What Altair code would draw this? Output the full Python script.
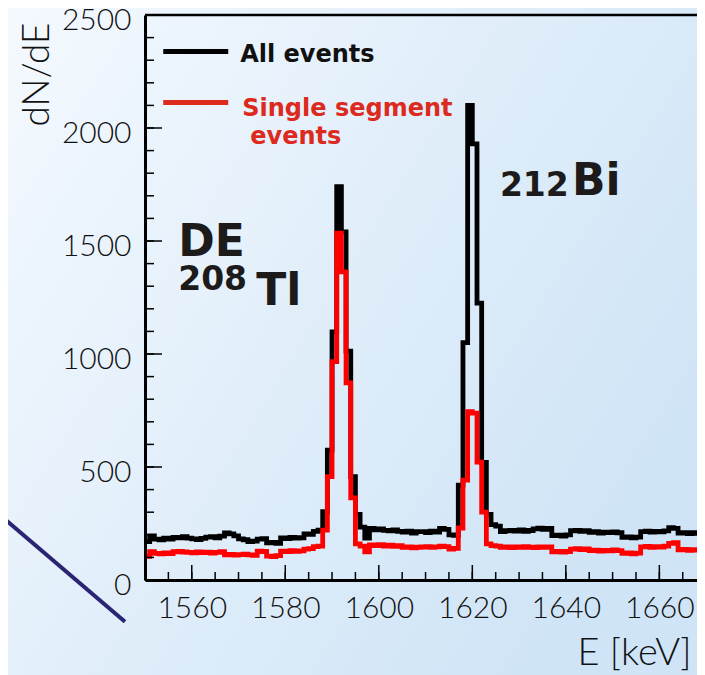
import altair as alt
import pandas as pd

E_MIN, E_MAX = 1550, 1670
E_VIEW_MAX = 1668.05  # right edge of the visible plot area (picture is cut there)

# counts per 1 keV bin, first bin starts at 1550 keV
all_events = [
    170, 195, 181, 178, 185, 181, 188, 186, 192, 185,
    182, 179, 184, 190, 192, 186, 194, 208, 204, 195,
    182, 178, 170, 172, 181, 183, 164, 166, 162, 186,
    183, 188, 185, 187, 204, 202, 215, 221, 302, 575,
    1098, 1740, 1540, 1013, 457, 290, 234, 185, 228, 222,
    226, 220, 218, 222, 215, 212, 216, 208, 214, 214,
    210, 216, 212, 228, 224, 200, 198, 420, 1050, 2100,
    1930, 1225, 520, 290, 245, 238, 214, 218, 220, 216,
    222, 215, 219, 226, 229, 224, 228, 196, 198, 194,
    200, 218, 220, 215, 218, 211, 214, 208, 212, 210,
    213, 209, 189, 191, 187, 190, 214, 216, 212, 215,
    213, 217, 232, 228, 207, 210, 205, 209, 206, 208,
]
single_segment = [
    105, 125, 118, 116, 120, 117, 125, 127, 124, 122,
    120, 124, 121, 123, 119, 122, 125, 111, 113, 110,
    112, 114, 111, 109, 128, 126, 106, 104, 108, 128,
    126, 130, 127, 129, 137, 139, 148, 150, 221, 457,
    966, 1535, 1363, 872, 363, 160, 150, 125, 155, 152,
    156, 150, 154, 149, 152, 144, 146, 142, 145, 146,
    148, 144, 147, 150, 148, 137, 140, 230, 442, 745,
    738, 522, 300, 160, 152, 150, 145, 147, 143, 146,
    144, 148, 145, 143, 146, 144, 147, 125, 127, 123,
    126, 137, 139, 135, 138, 130, 132, 128, 131, 129,
    133, 130, 118, 120, 116, 119, 147, 149, 145, 148,
    146, 150, 162, 165, 133, 135, 131, 134, 132, 134,
]

x_major = [1560, 1580, 1600, 1620, 1640, 1660]
x_minor = list(range(1555, 1668, 5))
y_major = [0, 500, 1000, 1500, 2000, 2500]
y_minor = list(range(0, 2501, 100))

legend_text = ["All events", "Single segment", "events"]
legend_text_E = [1570.35, 1570.8, 1572.5]
legend_text_N = [2292, 2053, 1929]
legend_text_color = ["#111111", "#dc2a1e", "#dc2a1e"]
legend_line_E = [1553.9, 1553.9]
legend_line_E2 = [1567.8, 1567.8]
legend_line_N = [2338, 2113]
legend_line_color = ["#000000", "#dc2a1e"]

big_labels = ["DE", "Tl", "Bi"]
big_E = [1557.1, 1573.8, 1641.3]
big_N = [1434, 1217, 1704]
small_labels = ["208", "212"]
small_E = [1557.1, 1625.9]
small_N = [1283, 1699]

# ---------------------------------------------------------------
energy = [E_MIN + i for i in range(len(all_events))]
def step_frame(vals):
    es = [e for e in energy if e <= E_VIEW_MAX] + [E_VIEW_MAX]
    vs = vals[:len(es) - 1] + [vals[len(es) - 2]]
    return pd.DataFrame({"E": es, "N": vs})

black_df = step_frame(all_events)
red_df = step_frame(single_segment)

PW, PH = 552, 565

xs = alt.Scale(domain=[E_MIN, E_VIEW_MAX], nice=False, zero=False)
ys = alt.Scale(domain=[0, 2500], nice=False, zero=False)

x_axis = alt.Axis(
    values=x_major, format="d", ticks=False, grid=False, zindex=2,
    domainColor="black", domainWidth=3,
    labelFont="Lato", labelFontSize=30, labelFontWeight=300, labelColor="#111111",
    labelPadding=13, labelOffset=0, labelFlush=False, labelOverlap=False,
    title="E [keV]", titleFont="Lato", titleFontSize=38, titleFontWeight=300,
    titleColor="#111111", titleX=546, titleY=84, titleAlign="right",
    titleBaseline="alphabetic",
)
y_axis = alt.Axis(
    values=y_major, format="d", ticks=False, grid=False, zindex=2,
    domainColor="black", domainWidth=3,
    labelFont="Lato", labelFontSize=30, labelFontWeight=300, labelColor="#111111",
    labelPadding=14, labelOffset=5, labelFlush=False, labelOverlap=False,
    title="dN/dE", titleFont="Lato", titleFontSize=37, titleFontWeight=300,
    titleColor="#111111", titleAngle=270, titleX=-108, titleY=59,
    titleAlign="center", titleBaseline="middle",
)

X = alt.X("E:Q", scale=xs, axis=x_axis)
Y = alt.Y("N:Q", scale=ys, axis=y_axis)

bg = alt.Chart(alt.Data(values=[{}])).mark_rect(
    color=alt.LinearGradient(
        gradient="linear",
        stops=[alt.GradientStop(color="#f4f9fe", offset=0),
               alt.GradientStop(color="#cfe4f6", offset=1)],
        x1=0, y1=0, x2=1, y2=0.6,
    )
).encode(x=alt.value(-137), x2=alt.value(PW), y=alt.value(-7), y2=alt.value(660))

top_border = alt.Chart(alt.Data(values=[{}])).mark_rule(color="black", strokeWidth=2.5).encode(
    x=alt.value(0), x2=alt.value(PW), y=alt.value(0))

black_line = alt.Chart(black_df).mark_line(
    interpolate="step-after", color="#000000", strokeWidth=4.8, strokeJoin="miter"
).encode(x=X, y=Y)
red_line = alt.Chart(red_df).mark_line(
    interpolate="step-after", color="#ff0000", strokeWidth=4.8, strokeJoin="miter"
).encode(x=X, y=Y)

xmaj = alt.Chart(pd.DataFrame({"E": x_major})).mark_rule(color="black", strokeWidth=1.5).encode(
    x=X, y=alt.value(PH), y2=alt.value(PH - 15))
xmin = alt.Chart(pd.DataFrame({"E": x_minor})).mark_rule(color="black", strokeWidth=1.5).encode(
    x=X, y=alt.value(PH), y2=alt.value(PH - 8))
ymaj = alt.Chart(pd.DataFrame({"N": y_major})).mark_rule(color="black", strokeWidth=1.5).encode(
    y=Y, x=alt.value(0), x2=alt.value(17))
ymin = alt.Chart(pd.DataFrame({"N": y_minor})).mark_rule(color="black", strokeWidth=1.5).encode(
    y=Y, x=alt.value(0), x2=alt.value(9))

leg_lines = alt.Chart(pd.DataFrame({
    "E": legend_line_E, "E2": legend_line_E2, "N": legend_line_N, "c": legend_line_color
})).mark_rule(strokeWidth=5).encode(
    x=X, x2="E2:Q", y=Y, color=alt.Color("c:N", scale=None))
leg_text = alt.Chart(pd.DataFrame({
    "E": legend_text_E, "N": legend_text_N, "t": legend_text, "c": legend_text_color
})).mark_text(align="left", baseline="alphabetic", font="DejaVu Sans",
              fontWeight="bold", fontSize=24).encode(
    x=X, y=Y, text="t:N", color=alt.Color("c:N", scale=None))

big_text = alt.Chart(pd.DataFrame({"E": big_E, "N": big_N, "t": big_labels})).mark_text(
    align="left", baseline="alphabetic", font="DejaVu Sans", fontWeight="bold",
    fontSize=44, color="#1c1a1b").encode(x=X, y=Y, text="t:N")
small_text = alt.Chart(pd.DataFrame({"E": small_E, "N": small_N, "t": small_labels})).mark_text(
    align="left", baseline="alphabetic", font="DejaVu Sans", fontWeight="bold",
    fontSize=33, color="#1c1a1b").encode(x=X, y=Y, text="t:N")

deco = alt.Chart(alt.Data(values=[{}])).mark_rule(
    color="#2b2473", strokeWidth=4, strokeCap="butt").encode(
    x=alt.value(-155), y=alt.value(491.5), x2=alt.value(-20), y2=alt.value(606.7))

chart = alt.layer(
    bg, deco, top_border, black_line, red_line, xmaj, xmin, ymaj, ymin,
    leg_lines, leg_text, big_text, small_text,
).properties(
    width=PW, height=PH,
    padding={"left": 137, "top": 7, "right": 0, "bottom": 95},
    autosize=alt.AutoSizeParams(type="none"),
).configure(background="#e6f1fb").configure_view(stroke=None)

chart.save("out.html", embed_options={"renderer": "svg", "actions": False})
